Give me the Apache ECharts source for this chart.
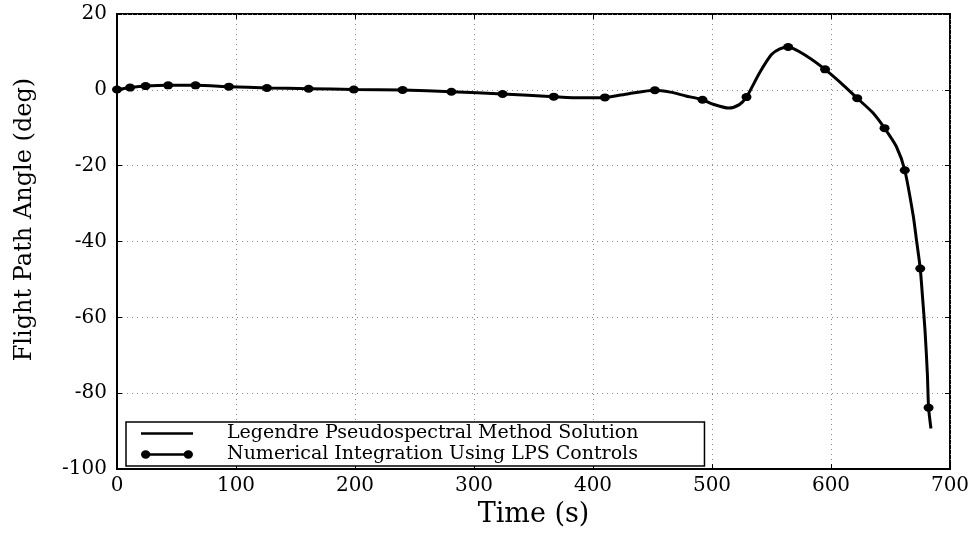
<!DOCTYPE html>
<html>
<head>
<meta charset="utf-8">
<script src="https://cdn.jsdelivr.net/npm/echarts@6/dist/echarts.min.js"></script>
<style>html,body{margin:0;padding:0;background:#fff}#c{width:976px;height:533px}</style>
</head>
<body>
<div id="c"></div>
<script>
// Legendre Pseudospectral solution (dense curve)
const lpsTime = [0,5,11,24,43,66,94,126,161,199,240,281,324,367,390,410,430,452,465,478,492,501,514,523,529,540,550,557,564,580,595,608,622,635,645,655,662,669,672,675,677,679,681,682,684];
const lpsAngle = [0.1,0.3,0.6,1.0,1.2,1.2,0.85,0.5,0.3,0.1,-0.05,-0.5,-1.1,-1.8,-2.1,-2.0,-1.0,-0.1,-0.6,-1.6,-2.6,-3.8,-4.8,-3.9,-1.9,4.5,9.3,10.8,11.3,8.8,5.4,1.9,-2.2,-6.0,-10.1,-15.0,-21.2,-33.0,-40.0,-47.1,-55.0,-63.4,-75.0,-83.8,-89.3];
// Numerical integration using LPS controls (marker nodes)
const niTime = [0,11,24,43,66,94,126,161,199,240,281,324,367,410,452,492,529,564,595,622,645,662,675,682];
const niAngle = [0.1,0.6,1.0,1.2,1.2,0.85,0.5,0.3,0.1,-0.05,-0.5,-1.1,-1.8,-2.0,-0.1,-2.6,-1.9,11.3,5.4,-2.2,-10.1,-21.2,-47.1,-83.8];
const xTicks = [0,100,200,300,400,500,600,700];
const yTicks = [-100,-80,-60,-40,-20,0,20];
const seriesNames = ['Legendre Pseudospectral Method Solution','Numerical Integration Using LPS Controls'];

const FONT = 'DejaVu Serif';
const chart = echarts.init(document.getElementById('c'));
const zip = (a,b) => a.map((v,i)=>[v,b[i]]);
const gridLine = {show:true, lineStyle:{color:'#888', type:[1,4], width:1}};
chart.setOption({
  animation:false,
  backgroundColor:'#fff',
  grid:{left:117, right:26, top:14, bottom:60, show:true, borderColor:'#000', borderWidth:2},
  xAxis:[{
    type:'value', min:xTicks[0], max:xTicks[xTicks.length-1], interval:100,
    name:'Time (s)', nameLocation:'middle', nameGap:27,
    nameTextStyle:{fontFamily:FONT, fontSize:27, color:'#000'},
    axisLine:{show:true, onZero:false, lineStyle:{color:'#000', width:2}},
    axisTick:{show:true, inside:true, length:5, lineStyle:{color:'#000', width:1}},
    axisLabel:{fontFamily:FONT, fontSize:20, color:'#000', margin:7},
    splitLine:gridLine
  },{
    type:'value', position:'top', min:xTicks[0], max:xTicks[xTicks.length-1], interval:100,
    axisLine:{show:false, onZero:false}, axisTick:{show:true, inside:true, length:5, lineStyle:{color:'#000'}},
    axisLabel:{show:false}, splitLine:{show:false}
  }],
  yAxis:[{
    type:'value', min:yTicks[0], max:yTicks[yTicks.length-1], interval:20,
    name:'Flight Path Angle (deg)', nameLocation:'middle', nameGap:80,
    nameTextStyle:{fontFamily:FONT, fontSize:24, color:'#000', padding:[0,0,0,44]},
    axisLine:{show:true, onZero:false, lineStyle:{color:'#000', width:2}},
    axisTick:{show:true, inside:true, length:5, lineStyle:{color:'#000'}},
    axisLabel:{fontFamily:FONT, fontSize:20, color:'#000', margin:10},
    splitLine:gridLine
  },{
    type:'value', position:'right', min:yTicks[0], max:yTicks[yTicks.length-1], interval:20,
    axisLine:{show:false, onZero:false}, axisTick:{show:true, inside:true, length:5, lineStyle:{color:'#000'}},
    axisLabel:{show:false}, splitLine:{show:false}
  }],
  legend:{
    orient:'vertical', left:126, top:422,
    backgroundColor:'#fff', borderColor:'#000', borderWidth:1.5, borderRadius:0,
    padding:[1,66,1,15], itemGap:0, itemWidth:52, itemHeight:10,
    textStyle:{fontFamily:FONT, fontSize:19, color:'#000', padding:[0,0,0,29], lineHeight:21},
    data:[
      {name:seriesNames[0], icon:'path://M0,3.8 L50,3.8 L50,6.2 L0,6.2 Z',
       itemStyle:{color:'#000', borderWidth:0}},
      {name:seriesNames[1], icon:'path://M0,5 a4.5,4 0 1,1 9,0 a4.5,4 0 1,1 -9,0 Z M41,5 a4.5,4 0 1,1 9,0 a4.5,4 0 1,1 -9,0 Z M4,3.8 L46,3.8 L46,6.2 L4,6.2 Z',
       itemStyle:{color:'#000', borderWidth:0}}
    ]
  },
  series:[
    {name:seriesNames[0], type:'line', data:zip(lpsTime,lpsAngle), smooth:0.25,
     symbol:'none', lineStyle:{color:'#000', width:3}, itemStyle:{color:'#000'}, z:3},
    {name:seriesNames[1], type:'line', data:zip(niTime,niAngle),
     symbol:'circle', symbolSize:[10,8], showSymbol:true, lineStyle:{color:'#000', width:2, opacity:0}, itemStyle:{color:'#000'}, z:4}
  ]
});
</script>
</body>
</html>
